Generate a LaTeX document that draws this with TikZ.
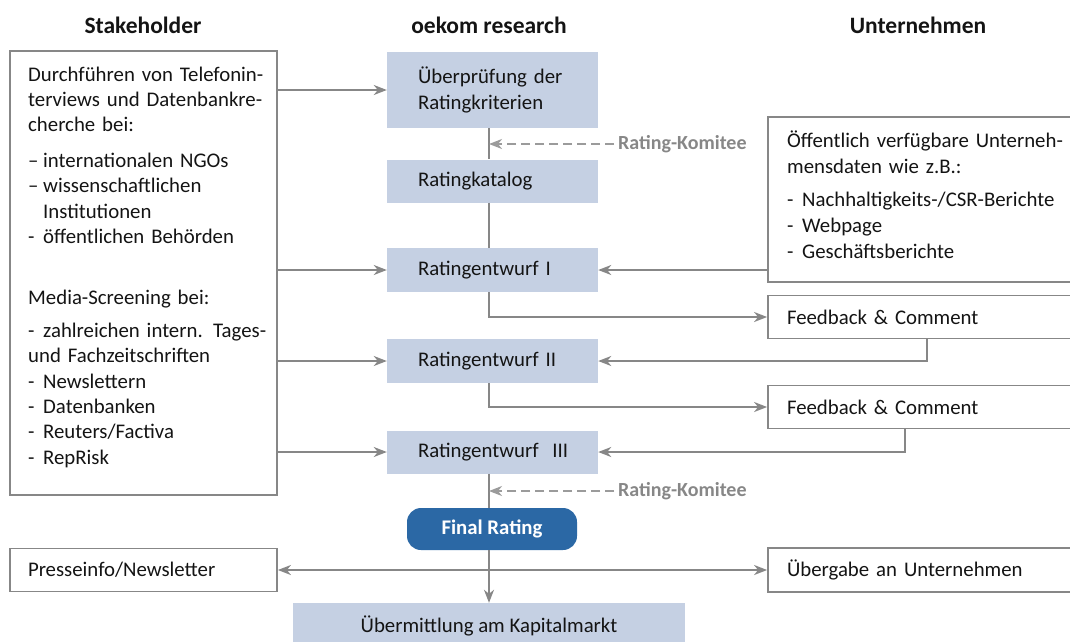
\documentclass[tikz,border=0pt]{standalone}
\usepackage{fontspec}
\setmainfont{Carlito}
\usetikzlibrary{arrows.meta,calc}
\definecolor{boxblue}{RGB}{197,208,227}
\definecolor{finalblue}{RGB}{43,104,165}
\definecolor{linegray}{RGB}{135,135,135}
\definecolor{dashgray}{RGB}{155,155,155}
\definecolor{komgray}{RGB}{135,135,135}
\definecolor{txtdark}{RGB}{20,20,20}
\newcommand\diagfont{\fontsize{20.8}{25.4}\selectfont}
\newcommand\itm{\makebox[15pt][l]{-}}
\newcommand\itd{\makebox[15pt][l]{–}}

\begin{document}
\begin{tikzpicture}[x=1pt, y=-1pt,
  every node/.style={text=txtdark, font=\diagfont},
  head/.style ={font=\fontsize{23.5}{26}\selectfont\bfseries},
  gbox/.style ={draw=linegray, line width=1.8pt, fill=white, inner sep=0pt},
  wbox/.style ={draw=linegray, line width=1.8pt, fill=white, inner xsep=19pt,
                inner ysep=0pt, minimum height=43pt, text width=284pt, align=left},
  cbox/.style ={fill=boxblue, inner xsep=31pt, inner ysep=0pt,
                minimum width=211pt, text width=149pt, align=left},
  fbox/.style ={fill=finalblue, rounded corners=14pt, minimum width=170pt,
                minimum height=42pt, text=white, font=\diagfont\bfseries},
  txt/.style  ={inner sep=0pt, align=left},
  kom/.style  ={font=\fontsize{20}{22}\selectfont\bfseries, text=komgray, inner sep=4pt},
  ln/.style   ={line width=1.8pt, draw=linegray},
  arr/.style  ={ln, -{Stealth[length=13pt, width=10pt, inset=4pt]}},
  arrb/.style ={ln, {Stealth[length=13pt, width=10pt, inset=4pt]}-{Stealth[length=13pt, width=10pt, inset=4pt]}},
  darr/.style ={line width=1.8pt, draw=dashgray, dash pattern=on 9pt off 5pt,
                -{Stealth[length=13pt, width=10pt, inset=4pt]}}
]
  \useasboundingbox (0,0) rectangle (1070,641);

  %% ── Column heads ────────────────────────────────────────────────────────
  \node[head] (hstk) at (143,25)   {Stakeholder};
  \node[head] (hoek) at (489,25)   {oekom research};
  \node[head] (hunt) at (918,25)   {Unternehmen};

  %% ── Stakeholder side ────────────────────────────────────────────────────
  \node[gbox, minimum width=267pt, minimum height=444pt] (stake) at (143.5,273) {};
  \node[txt, anchor=base west, text width=250pt] (staketxt) at (28,81)
    {Durchführen von Telefonin-\\terviews und Datenbankre-\\cherche bei:\\[10pt]
     \itd internationalen NGOs\\\itd wissenschaftlichen\\\hspace*{15pt}Institutionen\\
     \itm öffentlichen Behörden\\[36pt]
     Media-Screening bei:\\[7pt]
     \itm zahlreichen intern. Tages-\\und Fachzeitschriften\\\itm Newslettern\\
     \itm Datenbanken\\\itm Reuters/Factiva\\\itm RepRisk};
  \node[gbox, minimum width=267pt, minimum height=43pt, inner xsep=18pt,
        text width=231pt, align=left] (pr) at (143.5,570) {Presseinfo/Newsletter};

  %% ── oekom research: main column ─────────────────────────────────────────
  \node[cbox, minimum height=76pt] (chk) at (492.5,90)  {Überprüfung der\\Ratingkriterien};
  \node[cbox, minimum height=43pt] (kat) at (492.5,181) {Ratingkatalog};
  \node[cbox, minimum height=44pt] (re1) at (492.5,270) {Ratingentwurf I};
  \node[cbox, minimum height=44pt] (re2) at (492.5,361) {Ratingentwurf II};
  \node[cbox, minimum height=43pt] (re3) at (492.5,452) {Ratingentwurf~~III};
  \node[fbox] (fin) at (492,529) {Final Rating};
  \node[fill=boxblue, minimum width=392pt, minimum height=46pt] (kap) at (489,626)
    {Übermittlung am Kapitalmarkt};
  \node[kom, anchor=west] (kom1) at (614,144) {Rating-Komitee};
  \node[kom, anchor=west] (kom2) at (614,491) {Rating-Komitee};
  \coordinate (spine) at (489,0);

  %% ── Unternehmen side ────────────────────────────────────────────────────
  \node[gbox, minimum width=322pt, minimum height=165pt] (unt) at (929,199.5) {};
  \node[txt, anchor=base west, text width=284pt] (unttxt) at (787,147)
    {Öffentlich verfügbare Unterneh-\\[0.6pt]mensdaten wie z.B.:\\[8pt]
     \itm Nachhaltigkeits-/CSR-Berichte\\[0.6pt]\itm Webpage\\[0.6pt]\itm Geschäftsberichte};
  \node[wbox] (fb1) at (929,317) {Feedback \& Comment};
  \node[wbox] (fb2) at (929,407) {Feedback \& Comment};
  \node[wbox, minimum height=44pt] (ueb) at (929,570) {Übergabe an Unternehmen};

  %% ── Spine through the rating steps ──────────────────────────────────────
  \draw[ln]  (chk.south -| spine) -- (kat.north -| spine);
  \draw[ln]  (kat.south -| spine) -- (re1.north -| spine);
  \draw[ln]  (re3.south -| spine) -- (fin.north -| spine);
  \draw[arr] (fin.south -| spine) -- (kap.north -| spine);
  \draw[darr] (kom1.west) -- (kom1.west -| spine);
  \draw[darr] (kom2.west) -- (kom2.west -| spine);

  %% ── Stakeholder input ───────────────────────────────────────────────────
  \draw[arr] (stake.east |- chk.west) -- (chk.west);
  \draw[arr] (stake.east |- re1.west) -- (re1.west);
  \draw[arr] (stake.east |- re2.west) -- (re2.west);
  \draw[arr] (stake.east |- re3.west) -- (re3.west);

  %% ── Company data and feedback loops ─────────────────────────────────────
  \draw[arr] (unt.west |- re1.east) -- (re1.east);
  \draw[arr] (re1.south -| spine) |- (fb1.west);
  \draw[arr] ($(fb1.south west)+(160,0)$) |- (re2.east);
  \draw[arr] (re2.south -| spine) |- (fb2.west);
  \draw[arr] ($(fb2.south west)+(138,0)$) |- (re3.east);

  %% ── Publication ─────────────────────────────────────────────────────────
  \draw[arrb] (pr.east) -- (ueb.west);

\end{tikzpicture}
\end{document}
